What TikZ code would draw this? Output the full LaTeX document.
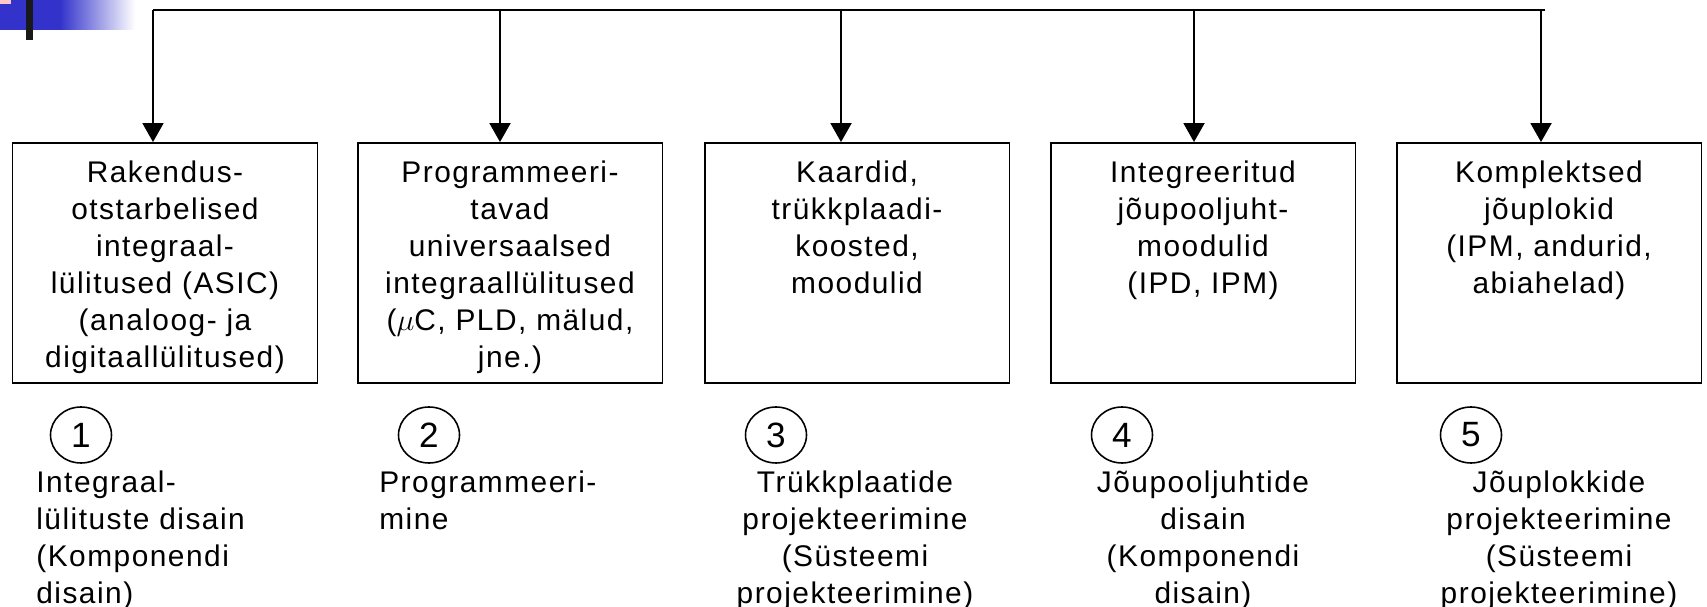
\documentclass[tikz,border=0pt]{standalone}
\usepackage{fontspec}
\setmainfont{Liberation Sans}[LetterSpace=5]
\usetikzlibrary{arrows.meta,shapes.geometric,positioning}
\definecolor{slideblue}{RGB}{51,51,204}
\definecolor{slidepink}{RGB}{255,200,200}

\begin{document}
\begin{tikzpicture}[x=0.02cm,y=-0.02cm,
		box/.style={draw,line width=1.1pt,minimum width=6.1cm,minimum height=4.8cm,inner sep=0pt},
		boxtext/.style={align=center,inner sep=0pt,anchor=north,font=\fontsize{17}{21}\selectfont},
		numring/.style={ellipse,draw,line width=0.9pt,minimum width=1.22cm,minimum height=1.12cm,inner sep=0pt,font=\fontsize{20}{21}\selectfont},
		undertext/.style={inner sep=0pt,anchor=north,font=\fontsize{17}{21}\selectfont},
		arr/.style={line width=1.1pt,-{Triangle[width=0.42cm,length=0.38cm]}}]
			\useasboundingbox (0,0) rectangle (1707,607);
			
			% corner mark of the slide
			\fill[slideblue] (0,0) rectangle (60,30);
			\shade[left color=slideblue,right color=white] (60,0) rectangle (135,30);
			\fill[slidepink] (0,0) rectangle (11,4);
			\fill[black!90] (26,0) rectangle (33,40);
			
			% boxes
			\node[box] (b1) at (165,263) {};
			\node[box] (b2) at (510,263) {};
			\node[box] (b3) at (857,263) {};
			\node[box] (b4) at (1203,263) {};
			\node[box] (b5) at (1549,263) {};
			
			\node[boxtext] (t1) at (165,161) {Rakendus-\\otstarbelised\\integraal-\\lülitused (ASIC)\\(analoog- ja\\digitaallülitused)};
			\node[boxtext] (t2) at (510,161) {Programmeeri-\\tavad\\universaalsed\\integraallülitused\\($\mu$C, PLD, mälud,\\jne.)};
			\node[boxtext] (t3) at (857,161) {Kaardid,\\trükkplaadi-\\koosted,\\moodulid};
			\node[boxtext] (t4) at (1203,161) {Integreeritud\\jõupooljuht-\\moodulid\\(IPD, IPM)};
			\node[boxtext] (t5) at (1549,161) {Komplektsed\\jõuplokid\\(IPM, andurid,\\abiahelad)};
			
			% bus with arrows
			\coordinate (s1) at (153,10);
			\coordinate (s2) at (500,10);
			\coordinate (s3) at (841,10);
			\coordinate (s4) at (1194,10);
			\coordinate (s5) at (1541,10);
			\coordinate (send) at (1545,10);
			\draw[line width=1.1pt] (s1) -- (send);
			\draw[arr] (s1) -- (s1 |- b1.north);
			\draw[arr] (s2) -- (s2 |- b2.north);
			\draw[arr] (s3) -- (s3 |- b3.north);
			\draw[arr] (s4) -- (s4 |- b4.north);
			\draw[arr] (s5) -- (s5 |- b5.north);
			
			% numbers
			\node[numring] (n1) at (81,435) {1};
			\node[numring] (n2) at (429,435) {2};
			\node[numring] (n3) at (776,435) {3};
			\node[numring] (n4) at (1122,435) {4};
			\node[numring] (n5) at (1471,435) {5};
			
			\node[undertext,anchor=north west,align=left] (d1) at (36,471) {Integraal-\\lülituste disain\\(Komponendi\\disain)};
			\node[undertext,anchor=north west,align=left] (d2) at (379,471) {Programmeeri-\\mine};
			\node[undertext,align=center] (d3) at (855,471) {Trükkplaatide\\projekteerimine\\(Süsteemi\\projekteerimine)};
			\node[undertext,align=center] (d4) at (1203,471) {Jõupooljuhtide\\disain\\(Komponendi\\disain)};
			\node[undertext,align=center] (d5) at (1559,471) {Jõuplokkide\\projekteerimine\\(Süsteemi\\projekteerimine)};
		\end{tikzpicture}
\end{document}
